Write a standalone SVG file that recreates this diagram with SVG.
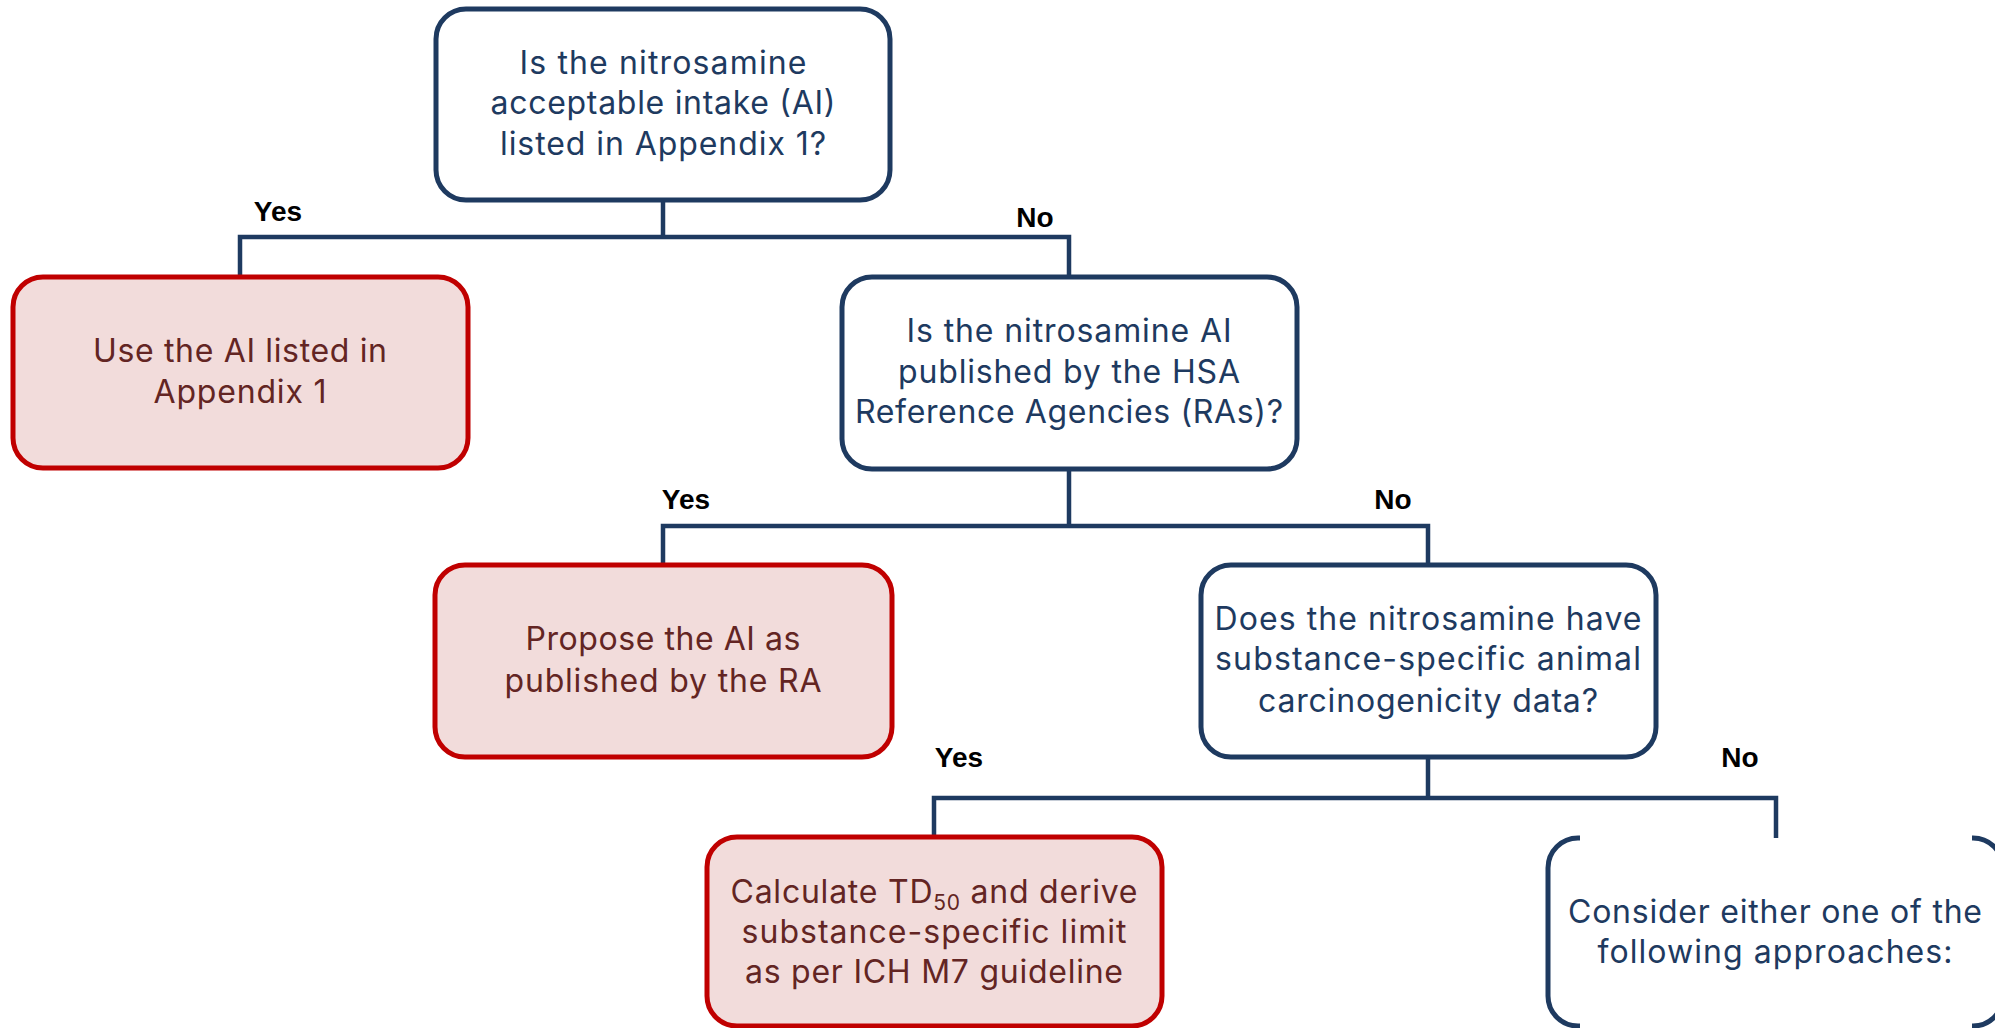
<svg xmlns="http://www.w3.org/2000/svg" width="1995" height="1028" viewBox="0 0 1995 1028">
  <style>
    .q { fill: #ffffff; stroke: #1E3A60; stroke-width: 5; }
    .r { fill: #F2DCDB; stroke: #C00000; stroke-width: 5; }
    .open { fill: none; stroke: #1E3A60; stroke-width: 5; }
    .qt { font-family: Inter, "Open Sans", sans-serif; font-size: 32px; fill: #1E3A60; text-anchor: middle; }
    .rt { font-family: Inter, "Open Sans", sans-serif; font-size: 32px; fill: #632523; text-anchor: middle; }
    .lbl { font-family: "Liberation Sans", Arial, sans-serif; font-size: 28px; font-weight: bold; fill: #000000; text-anchor: middle; }
    .conn { fill: none; stroke: #1E3A60; stroke-width: 4.5; stroke-linejoin: miter; stroke-linecap: butt; }
  </style>

  <!-- connectors with their branch labels -->
  <g id="connectors">
    <path class="conn" d="M663,200 V237"/>
    <path class="conn" d="M240,277 V237 H1069 V277"/>
    <path class="conn" d="M1069,469 V526"/>
    <path class="conn" d="M663,565 V526 H1428 V565"/>
    <path class="conn" d="M1428,757 V798"/>
    <path class="conn" d="M934,837 V798 H1776 V838"/>
    <text class="lbl" x="278" y="221">Yes</text>
    <text class="lbl" x="1035" y="227">No</text>
    <text class="lbl" x="686" y="509">Yes</text>
    <text class="lbl" x="1393" y="509">No</text>
    <text class="lbl" x="959" y="767">Yes</text>
    <text class="lbl" x="1740" y="767">No</text>
  </g>

  <!-- decision: listed in Appendix 1 -->
  <g id="q-appendix">
    <rect class="q" x="436" y="9" width="454" height="191" rx="30"/>
    <text class="qt" x="663" y="74" textLength="287" lengthAdjust="spacing">Is the nitrosamine</text>
    <text class="qt" x="663" y="114" textLength="345" lengthAdjust="spacing">acceptable intake (AI)</text>
    <text class="qt" x="663" y="155" textLength="326" lengthAdjust="spacing">listed in Appendix 1?</text>
  </g>

  <!-- outcome: use Appendix 1 AI -->
  <g id="use-appendix">
    <rect class="r" x="13" y="277" width="455" height="191" rx="30"/>
    <text class="rt" x="240" y="362" textLength="294" lengthAdjust="spacing">Use the AI listed in</text>
    <text class="rt" x="240" y="403" textLength="173" lengthAdjust="spacing">Appendix 1</text>
  </g>

  <!-- decision: published by reference agencies -->
  <g id="q-ra">
    <rect class="q" x="842" y="277" width="455" height="192" rx="30"/>
    <text class="qt" x="1069" y="342" textLength="325" lengthAdjust="spacing">Is the nitrosamine AI</text>
    <text class="qt" x="1069" y="383" textLength="342" lengthAdjust="spacing">published by the HSA</text>
    <text class="qt" x="1069" y="423" textLength="428" lengthAdjust="spacing">Reference Agencies (RAs)?</text>
  </g>

  <!-- outcome: RA-published AI -->
  <g id="use-ra">
    <rect class="r" x="435" y="565" width="457" height="192" rx="30"/>
    <text class="rt" x="663" y="650" textLength="275" lengthAdjust="spacing">Propose the AI as</text>
    <text class="rt" x="663" y="692" textLength="317" lengthAdjust="spacing">published by the RA</text>
  </g>

  <!-- decision: carcinogenicity data -->
  <g id="q-data">
    <rect class="q" x="1201" y="565" width="455" height="192" rx="30"/>
    <text class="qt" x="1428" y="630" textLength="427" lengthAdjust="spacing">Does the nitrosamine have</text>
    <text class="qt" x="1428" y="670" textLength="426" lengthAdjust="spacing">substance-specific animal</text>
    <text class="qt" x="1428" y="712" textLength="340" lengthAdjust="spacing">carcinogenicity data?</text>
  </g>

  <!-- outcome: TD50-based limit -->
  <g id="td50">
    <rect class="r" x="707" y="837" width="455" height="189" rx="30"/>
    <text class="rt" x="934" y="903" textLength="407" lengthAdjust="spacing">Calculate TD<tspan font-size="21" dy="7">50</tspan><tspan dy="-7"> and derive</tspan></text>
    <text class="rt" x="934" y="943" textLength="385" lengthAdjust="spacing">substance-specific limit</text>
    <text class="rt" x="934" y="983" textLength="378" lengthAdjust="spacing">as per ICH M7 guideline</text>
  </g>

  <!-- outcome: alternative approaches (bracketed, open top and bottom) -->
  <g id="approaches">
    <path class="open" d="M1580,838 H1578 A30,30 0 0 0 1548,868 V996 A30,30 0 0 0 1578,1026 H1580"/>
    <path class="open" d="M1972,838 H1973 A30,30 0 0 1 2003,868 V996 A30,30 0 0 1 1973,1026 H1972"/>
    <text class="qt" x="1775" y="923" textLength="414" lengthAdjust="spacing">Consider either one of the</text>
    <text class="qt" x="1775" y="963" textLength="355" lengthAdjust="spacing">following approaches:</text>
  </g>
</svg>
